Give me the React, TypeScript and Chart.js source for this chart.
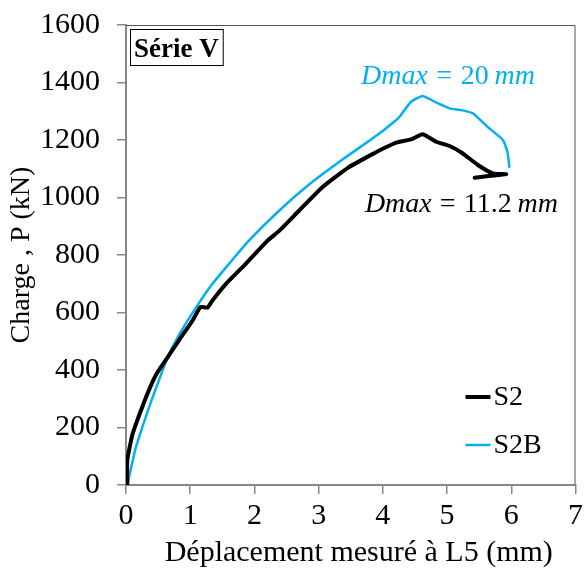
import React, { useEffect, useRef } from 'react';
import { Chart, registerables } from 'chart.js';

Chart.register(...registerables);

// ---- Data ----
const s2X = [0.02, 0.02, 0.10, 0.21, 0.31, 0.42, 0.49, 0.65, 0.83, 1.03, 1.16, 1.27, 1.34, 1.55, 1.86, 2.20, 2.38, 2.69, 3.05, 3.46, 3.88, 4.03, 4.21, 4.44, 4.62, 4.83, 5.04, 5.24, 5.48, 5.71, 5.92, 5.68, 5.43];
const s2Y = [0, 85, 176, 246, 304, 362, 392, 445, 505, 570, 619, 617, 640, 698, 768, 849, 883, 953, 1034, 1104, 1156, 1173, 1191, 1202, 1220, 1194, 1179, 1154, 1113, 1084, 1081, 1076, 1069];

const s2bX = [0.02, 0.08, 0.15, 0.26, 0.39, 0.49, 0.65, 0.83, 1.09, 1.34, 1.60, 1.91, 2.38, 2.89, 3.41, 3.93, 4.19, 4.26, 4.44, 4.62, 4.86, 5.04, 5.22, 5.40, 5.63, 5.87, 5.94, 5.97];
const s2bY = [0, 60, 128, 205, 290, 350, 445, 524, 617, 698, 768, 849, 953, 1052, 1138, 1220, 1266, 1281, 1333, 1353, 1327, 1310, 1304, 1293, 1246, 1200, 1159, 1107];

const seriesNames = ['S2', 'S2B'];
const seriesColors = ['#000000', '#00B0F0'];
const seriesWidths = [4, 2.5];

const xMin = 0, xMax = 7, xStep = 1;
const yMin = 0, yMax = 1600, yStep = 200;

const xTitle = 'Déplacement mesuré à L5 (mm)';
const yTitle = 'Charge , P (kN)';
const boxLabel = 'Série V';

// annotation anchors (data coords, left/baseline)
const annotBlue = { x: 3.66, y: 1395, parts: ['Dmax', '=', '20', 'mm'], width: 174 };
const annotBlack = { x: 3.72, y: 948, parts: ['Dmax', '=', '11.2', 'mm'], width: 193 };

const SERIF = '"Liberation Serif", "Times New Roman", serif';

const overlayPlugin = {
  id: 'overlay',
  afterDraw(chart: any) {
    const ctx = chart.ctx as CanvasRenderingContext2D;
    const { left, right, top, bottom } = chart.chartArea;
    const xs = chart.scales.x;
    const ys = chart.scales.y;
    ctx.save();
    // top + right frame
    ctx.strokeStyle = '#555555';
    ctx.lineWidth = 1;
    ctx.beginPath();
    ctx.moveTo(left, top + 0.5);
    ctx.lineTo(right - 0.5, top + 0.5);
    ctx.lineTo(right - 0.5, bottom);
    ctx.stroke();

    // Série V box
    ctx.font = `bold 27px ${SERIF}`;
    ctx.fillStyle = '#000';
    ctx.textBaseline = 'alphabetic';
    ctx.textAlign = 'left';
    const bx = left + 4, by = top + 4;
    const tw = ctx.measureText(boxLabel).width;
    ctx.strokeStyle = '#000';
    ctx.lineWidth = 1;
    ctx.strokeRect(bx + 0.5, by + 0.5, tw + 8, 36);
    ctx.fillText(boxLabel, bx + 4, by + 28);

    // annotations
    const drawAnnot = (a: any, color: string) => {
      const px = xs.getPixelForValue(a.x);
      const py = ys.getPixelForValue(a.y);
      ctx.fillStyle = color;
      const fonts = [`italic 28px ${SERIF}`, `28px ${SERIF}`, `28px ${SERIF}`, `italic 28px ${SERIF}`];
      const widths = a.parts.map((p: string, i: number) => { ctx.font = fonts[i]; return ctx.measureText(p).width; });
      const natural = widths.reduce((s: number, w: number) => s + w, 0);
      const extra = Math.max(0, a.width - natural);
      const gaps = [extra * 0.37, extra * 0.37, extra * 0.26];
      let cx = px;
      a.parts.forEach((p: string, i: number) => {
        ctx.font = fonts[i];
        ctx.fillText(p, cx, py);
        cx += widths[i] + (gaps[i] || 0);
      });
    };
    drawAnnot(annotBlue, seriesColors[1]);
    drawAnnot(annotBlack, seriesColors[0]);

    // legend
    const lx0 = right - 110, lx1 = right - 85;
    const ly = [bottom - 88, bottom - 40];
    ctx.font = `28px ${SERIF}`;
    ctx.textBaseline = 'middle';
    seriesNames.forEach((n, i) => {
      ctx.strokeStyle = seriesColors[i];
      ctx.lineWidth = seriesWidths[i];
      ctx.beginPath();
      ctx.moveTo(lx0, ly[i]);
      ctx.lineTo(lx1, ly[i]);
      ctx.stroke();
      ctx.fillStyle = '#000';
      ctx.fillText(n, lx1 + 3, ly[i] + 1);
    });

    // x-axis title (centred like the reference)
    ctx.font = `30px ${SERIF}`;
    ctx.textAlign = 'center';
    ctx.textBaseline = 'alphabetic';
    ctx.fillStyle = '#000';
    ctx.fillText(xTitle, (left + right) / 2 + 8, 561);
    ctx.restore();
  },
};

export default function App() {
  const ref = useRef<HTMLCanvasElement | null>(null);
  useEffect(() => {
    if (!ref.current) return;
    const mk = (xs: number[], ys: number[]) => xs.map((x, i) => ({ x, y: ys[i] }));
    const chart = new Chart(ref.current, {
      type: 'line',
      data: {
        datasets: [
          { label: seriesNames[0], data: mk(s2X, s2Y), borderColor: seriesColors[0], borderWidth: seriesWidths[0], pointRadius: 0, tension: 0.15, fill: false, borderCapStyle: 'round', borderJoinStyle: 'round' },
          { label: seriesNames[1], data: mk(s2bX, s2bY), borderColor: seriesColors[1], borderWidth: seriesWidths[1], pointRadius: 0, tension: 0.15, fill: false, borderCapStyle: 'round', borderJoinStyle: 'round' },
        ],
      },
      options: {
        animation: false,
        responsive: false,
        maintainAspectRatio: false,
        layout: { padding: { left: 0, right: 9, top: 25, bottom: 0 } },
        plugins: { legend: { display: false }, tooltip: { enabled: false } },
        scales: {
          x: {
            type: 'linear', min: xMin, max: xMax,
            ticks: { stepSize: xStep, color: '#000', font: { family: SERIF, size: 30 }, padding: 4, maxRotation: 0, callback: (v: any) => String(v) },
            grid: { drawOnChartArea: false, drawTicks: true, tickLength: 9, color: '#888888', lineWidth: 1.5 },
            border: { color: '#888888', width: 2 },
            title: { display: false, text: xTitle },
            afterFit: (s: any) => { s.height = 85; },
          },
          y: {
            type: 'linear', min: yMin, max: yMax,
            ticks: { stepSize: yStep, color: '#000', font: { family: SERIF, size: 30 }, padding: 17, callback: (v: any) => String(v) },
            grid: { drawOnChartArea: false, drawTicks: true, tickLength: 9, color: '#888888', lineWidth: 1.5 },
            border: { color: '#888888', width: 2 },
            title: { display: true, text: yTitle, color: '#000', font: { family: SERIF, size: 28 }, padding: { top: 5, bottom: 0 } },
            afterFit: (s: any) => { s.width = 126; s.paddingTop = 5; s.paddingBottom = 5; },
          },
        },
      },
      plugins: [overlayPlugin],
    } as any);
    return () => chart.destroy();
  }, []);
  return (
    <div style={{ position: 'fixed', left: 0, top: 0, width: 587, height: 570, background: '#fff' }}>
      <canvas ref={ref} width={587} height={570} style={{ width: 587, height: 570 }} />
    </div>
  );
}
